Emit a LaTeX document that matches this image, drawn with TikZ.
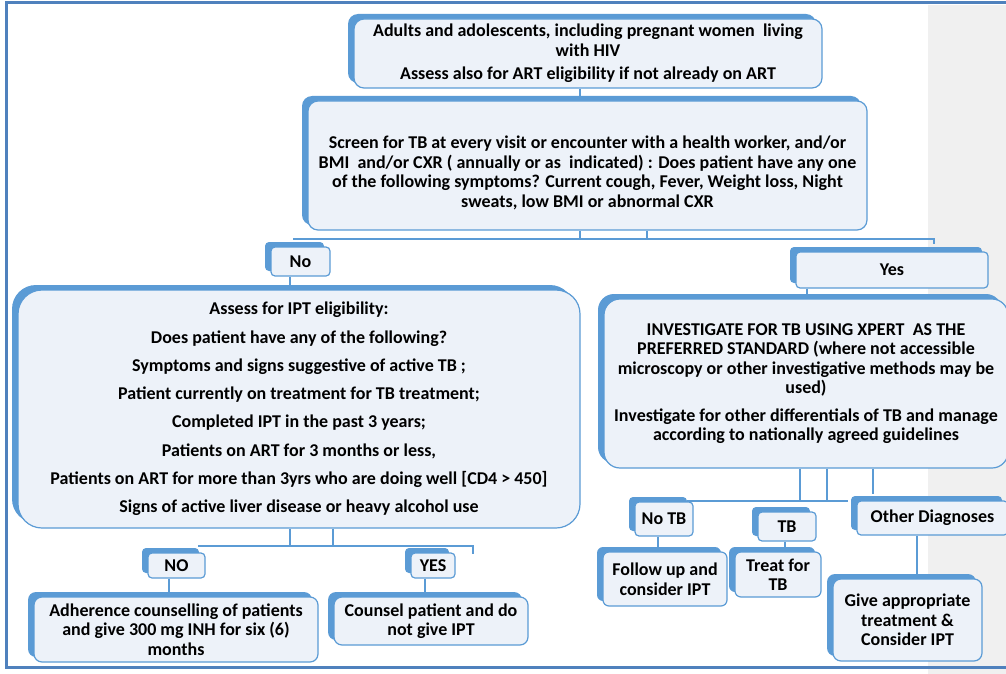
\documentclass[tikz,border=0pt]{standalone}
\usepackage{fontspec}
\setmainfont{Carlito}
\usepackage{tikz}
\usetikzlibrary{shadows}
\definecolor{boxblue}{HTML}{5B9BD5}
\definecolor{boxfill}{HTML}{EDF2F9}
\definecolor{frameblue}{HTML}{4F81BD}
\definecolor{sidegray}{HTML}{F0F0F0}
\tikzset{
  box/.style={draw=boxblue, fill=boxfill, line width=1.2pt, rounded corners=#1,
    align=center, inner sep=0pt, font=\bfseries\fontsize{18}{19.5}\selectfont,
    general shadow={fill=boxblue, shadow xshift=-6pt, shadow yshift=5pt}},
  box/.default=10pt,
  tag/.style={box=4pt},
  link/.style={draw=boxblue, line width=1.3pt},
}
\begin{document}
\begin{tikzpicture}[x=1pt,y=1pt,yscale=-1,xscale=1]
\useasboundingbox (0,0) rectangle (1006,674);
\fill[sidegray] (928,5) rectangle (1006,674);
\draw[frameblue, line width=3pt] (1006,3) -- (6,3) -- (6,667) -- (1006,667);
%Boxes
\draw (588,53.5) node (adults) [box, minimum width=468pt, minimum height=69pt] {Adults and adolescents, including pregnant women\ \ living\\with HIV\\[4pt]Assess also for ART eligibility if not already on ART};
\draw (587.5,165.5) node (screen) [box, minimum width=559pt, minimum height=129pt] {\rule{0pt}{27pt}Screen for TB at every visit or encounter with a health worker, and/or\\BMI\ \ and/or CXR ( annually or as\ \ indicated) : Does patient have any one\\of the following symptoms? Current cough, Fever, Weight loss, Night\\sweats, low BMI or abnormal CXR};
\draw (300.5,261.5) node (no) [tag, minimum width=59pt, minimum height=29pt] {No};
\draw (892,270) node (yes) [tag, minimum width=192pt, minimum height=36pt] {Yes};
\draw (299,409) node (ipt) [box=24pt, minimum width=562pt, minimum height=238pt, font=\bfseries\fontsize{18}{28.3}\selectfont] {Assess for IPT eligibility:\\Does patient have any of the following?\\Symptoms and signs suggestive of active TB ;\\Patient currently on treatment for TB treatment;\\Completed IPT in the past 3 years;\\Patients on ART for 3 months or less,\\Patients on ART for more than 3yrs who are doing well [CD4 > 450]\\Signs of active liver disease or heavy alcohol use};
\draw (806,383.5) node (xpert) [box=16pt, minimum width=404pt, minimum height=169pt] {INVESTIGATE FOR TB USING XPERT\ \ AS THE\\PREFERRED STANDARD (where not accessible\\microscopy or other investigative methods may be\\used)\\[8pt]Investigate for other differentials of TB and manage\\according to nationally agreed guidelines};
\draw (176.5,565.5) node (iptno) [tag, minimum width=57pt, minimum height=25pt] {NO};
\draw (433,565.5) node (iptyes) [tag, minimum width=44pt, minimum height=25pt] {YES};
\draw (176,629.5) node (adhere) [box=8pt, minimum width=284pt, minimum height=65pt] {Adherence counselling of patients\\and give 300 mg INH for six (6)\\months};
\draw (431,621) node (counsel) [box=8pt, minimum width=194pt, minimum height=48pt] {Counsel patient and do\\not give IPT};
\draw (664,519) node (notb) [tag, minimum width=58pt, minimum height=34pt] {No TB};
\draw (787,526.5) node (tb) [tag, minimum width=58pt, minimum height=29pt] {TB};
\draw (932.5,518) node (other) [tag, minimum width=151pt, minimum height=34pt] {Other Diagnoses};
\draw (665,579) node (follow) [box=6pt, minimum width=124pt, minimum height=54pt] {Follow up and\\consider IPT};
\draw (778,574.5) node (treat) [box=6pt, minimum width=86pt, minimum height=45pt] {Treat for\\TB};
\draw (907.5,620) node (give) [box=8pt, minimum width=149pt, minimum height=82pt] {Give appropriate\\treatment \&\\Consider IPT};
%Connectors
\coordinate (s1) at (580,239);
\coordinate (s2) at (647,239);
\coordinate (sL) at (293,239);
\coordinate (sR) at (934,239);
\draw[link] (adults.south -| s1) -- (screen.north -| s1);
\draw[link] (screen.south -| s1) -- (s1);
\draw[link] (screen.south -| s2) -- (s2);
\draw[link] (sL) -- (sR) -- ++(0,5);
\coordinate (xno) at (290,0);
\coordinate (xyes) at (807,0);
\draw[link] (no.south -| xno) -- (ipt.north -| xno);
\draw[link] (yes.south -| xyes) -- (xpert.north -| xyes);
\coordinate (i1) at (290,546);
\coordinate (i2) at (333,546);
\coordinate (iL) at (198,546);
\coordinate (iR) at (473,546);
\draw[link] (ipt.south -| i1) -- (i1);
\draw[link] (ipt.south -| i2) -- (i2);
\draw[link] (iL) -- (iR) -- ++(0,8);
\coordinate (xiptno) at (169,0);
\coordinate (xiptyes) at (425,0);
\draw[link] (iptno.south -| xiptno) -- (adhere.north -| xiptno);
\draw[link] (iptyes.south -| xiptyes) -- (counsel.north -| xiptyes);
\coordinate (x1) at (800,501);
\coordinate (x2) at (827,501);
\coordinate (xL) at (687,501);
\coordinate (xR) at (848,501);
\coordinate (x3) at (873,0);
\draw[link] (xpert.south -| x1) -- (x1);
\draw[link] (xpert.south -| x2) -- (x2);
\draw[link] (xL) -- (xR);
\draw[link] (xpert.south -| x3) -- ++(0,25);
\coordinate (xnotb) at (658,0);
\coordinate (xtb) at (785,0);
\coordinate (xother) at (917,0);
\draw[link] (notb.south -| xnotb) -- (follow.north -| xnotb);
\draw[link] (tb.south -| xtb) -- (treat.north -| xtb);
\draw[link] (other.south -| xother) -- (give.north -| xother);
\end{tikzpicture}
\end{document}
